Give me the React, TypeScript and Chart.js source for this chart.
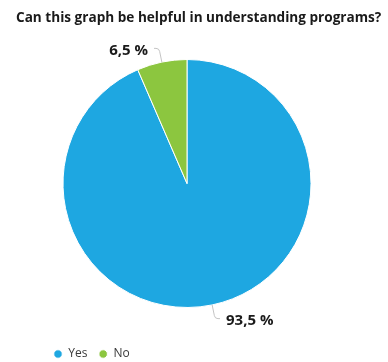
import React, { useEffect, useRef } from "react";
import { Chart, registerables } from "chart.js";

Chart.register(...registerables);

const titleText = "Can this graph be helpful in understanding programs?";
const categories = ["Yes", "No"];
const values = [93.5, 6.5];
const colors = ["#1ea7e1", "#8cc63f"];

const formatValue = (v: number) => v.toFixed(1).replace(".", ",") + " %";

export default function App() {
  const ref = useRef<HTMLCanvasElement>(null);

  useEffect(() => {
    document.body.style.margin = "0";
    const titlePlugin = {
      id: "customTitle",
      afterDraw(chart: any) {
        const ctx = chart.ctx;
        ctx.save();
        ctx.font = "bold 13.6px 'Open Sans'";
        ctx.fillStyle = "#1a1a1a";
        ctx.textAlign = "left";
        ctx.textBaseline = "alphabetic";
        ctx.fillText(titleText, 16, 22);
        ctx.restore();
      },
    };
    const labelPlugin = {
      id: "valueLabels",
      afterDatasetsDraw(chart: any) {
        const meta = chart.getDatasetMeta(0);
        const ctx = chart.ctx;
        meta.data.forEach((arc: any, i: number) => {
          const { x, y, startAngle, endAngle, outerRadius } = arc.getProps(
            ["x", "y", "startAngle", "endAngle", "outerRadius"],
            true
          );
          const mid = (startAngle + endAngle) / 2;
          const c = Math.cos(mid);
          const s = Math.sin(mid);
          const x0 = x + outerRadius * c;
          const y0 = y + outerRadius * s;
          const x1 = x + (outerRadius + 14) * c;
          const y1 = y + (outerRadius + 14) * s;
          const dir = c >= 0 ? 1 : -1;
          const x2 = x1 + dir * 5;
          ctx.save();
          ctx.strokeStyle = "#c4c4c4";
          ctx.lineWidth = 1;
          ctx.beginPath();
          ctx.moveTo(x0, y0);
          ctx.lineTo(x1 - c * 3, y1 - s * 3);
          ctx.quadraticCurveTo(x1, y1, x1 + dir * 3, y1);
          ctx.lineTo(x2, y1);
          ctx.stroke();
          ctx.font = "bold 15px 'Open Sans'";
          ctx.fillStyle = "#1a1a1a";
          ctx.textAlign = dir > 0 ? "left" : "right";
          ctx.textBaseline = "middle";
          ctx.fillText(formatValue(values[i]), x2 + dir * 6, y1 + 2.5);
          ctx.restore();
        });
      },
    };
    const chart = new Chart(ref.current as HTMLCanvasElement, {
      type: "pie",
      data: {
        labels: categories,
        datasets: [
          {
            data: values,
            backgroundColor: colors,
            borderColor: "#ffffff",
            borderWidth: 1,
            radius: 124,
          } as any,
        ],
      },
      options: {
        responsive: false,
        animation: false,
        layout: { padding: { left: 42.25, right: 56.25, top: 30.5, bottom: 0 } },
        plugins: {
          title: { display: false },
          tooltip: { enabled: false },
          legend: {
            position: "bottom",
            align: "start",
            labels: {
              usePointStyle: true,
              pointStyle: "circle",
              boxHeight: 6,
              pointStyleWidth: 8.5,
              padding: 11.5,
              color: "#3a3a3a",
              font: { family: "'Open Sans'", size: 12 },
            },
          },
        },
      },
      plugins: [titlePlugin, labelPlugin],
    });
    return () => chart.destroy();
  }, []);

  return (
    <div style={{ width: 388, height: 362, overflow: "hidden" }}>
      <canvas ref={ref} width={388} height={370} />
    </div>
  );
}
